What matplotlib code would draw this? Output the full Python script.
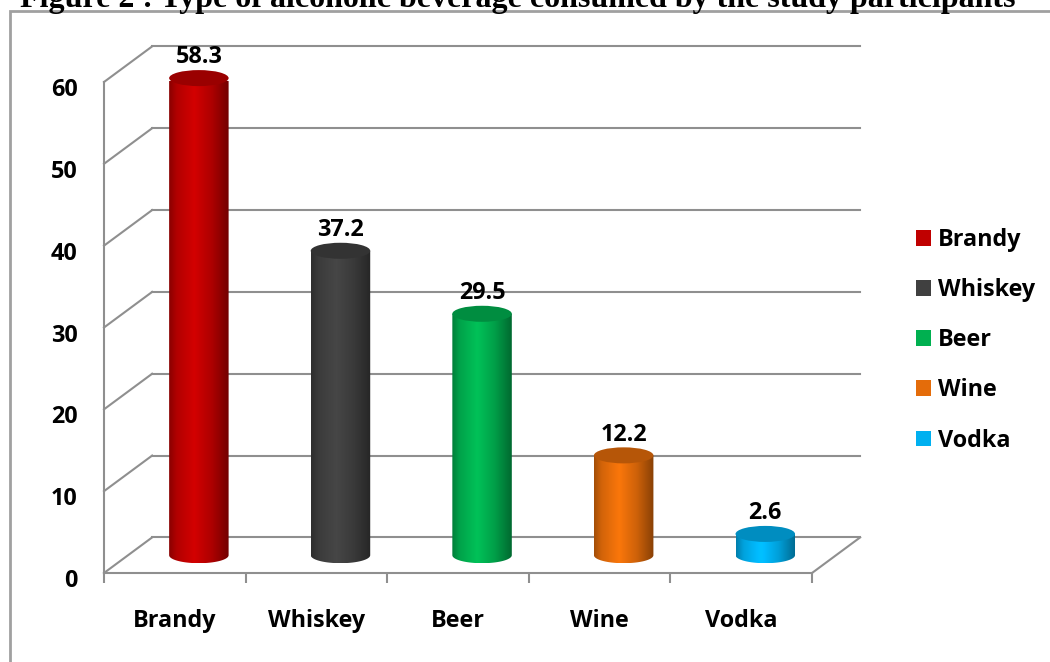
import numpy as np
import matplotlib
matplotlib.use('Agg')
import matplotlib.pyplot as plt
import matplotlib.colors as mcolors
from matplotlib.patches import Ellipse, PathPatch, Patch, Rectangle
from matplotlib.path import Path
from matplotlib.transforms import ScaledTranslation

# data
drinks = ['Brandy', 'Whiskey', 'Beer', 'Wine', 'Vodka']
percent = [58.3, 37.2, 29.5, 12.2, 2.6]
colours = ['#C00000', '#404040', '#00B050', '#E46C0A', '#00B0F0']
yticks = [0, 10, 20, 30, 40, 50, 60]
title = 'Figure 2 : Type of alcoholic beverage consumed by the study participants'

W, H = 1050, 662
# fake 3d: depth offset of the box, in data units (category, value)
DX, DY = 0.34, 4.35
R = 0.21    # cylinder radius in category units
RY = 0.98   # half height of the cap ellipse in value units
grid_c = '#8f8f8f'
fs = 16.8

plt.rcParams['font.family'] = ['Open Sans', 'DejaVu Sans']
plt.rcParams['font.weight'] = 'bold'

fig = plt.figure(figsize=(W / 100, H / 100), dpi=100)
ax = fig.add_axes([104 / W, 1 - 573 / H, 708 / W, (573 - 82) / H])
ax.patch.set_alpha(0)

n = len(drinks)

# walls and floor
for v in yticks:
    ax.plot([0, DX], [v, v + DY], color=grid_c, lw=1.5, clip_on=False, zorder=1)
    ax.plot([DX, n + DX], [v + DY, v + DY], color=grid_c, lw=1.5, clip_on=False, zorder=1)
ax.plot([n, n + DX], [0, DY], color=grid_c, lw=1.5, clip_on=False, zorder=1)

# shading across a cylinder, left -> right
t_pts = [0, 0.12, 0.42, 0.72, 1]
f_pts = [0.72, 0.92, 1.1, 0.9, 0.6]


def shade(colour, k=64):
    base = np.array(mcolors.to_rgb(colour))
    t = np.linspace(0, 1, k)
    f = np.interp(t, t_pts, f_pts)
    return np.clip(base[None, :] * f[:, None], 0, 1)[None, :, :]


def body_path(cx, y0, y1):
    th = np.linspace(np.pi, 2 * np.pi, 50)
    arc = np.column_stack([cx + R * np.cos(th), y0 + RY * np.sin(th)])
    verts = np.vstack([[cx - R, y1], arc, [cx + R, y1], [cx - R, y1]])
    return Path(verts, closed=True)


for i, (name, v, c) in enumerate(zip(drinks, percent, colours)):
    cx = i + 0.5 + DX / 2
    y0 = DY / 2
    y1 = v + DY / 2
    clip = PathPatch(body_path(cx, y0, y1), transform=ax.transData,
                     facecolor='none', edgecolor='none')
    im = ax.imshow(shade(c), extent=[cx - R, cx + R, y0 - RY, y1],
                   aspect='auto', interpolation='bilinear', zorder=3)
    im.set_clip_path(clip)
    im.set_clip_box(None)
    top = np.clip(np.array(mcolors.to_rgb(c)) * 0.8, 0, 1)
    ax.add_patch(Ellipse((cx, y1), 2 * R, 2 * RY, facecolor=top,
                         edgecolor='none', clip_on=False, zorder=4))
    ax.annotate(f'{v}', xy=(cx, y1), xytext=(0, 15), textcoords='offset points',
                ha='center', va='center', fontsize=fs, fontweight='bold',
                annotation_clip=False, zorder=5)

ax.set_xlim(0, n)
ax.set_ylim(0, 60)

ax.set_yticks(yticks)
ax.tick_params(axis='y', length=0, pad=19, labelsize=fs)

ax.set_xticks(range(n + 1))
ax.set_xticklabels([])
ax.set_xticks(np.arange(n) + 0.5, minor=True)
ax.set_xticklabels(drinks, minor=True)
ax.tick_params(axis='x', which='major', length=7, width=1.5, color=grid_c)
ax.tick_params(axis='x', which='minor', length=0, pad=26, labelsize=fs)

# value labels sit a little below the front gridline ends
down = ScaledTranslation(0, -5 / 100, fig.dpi_scale_trans)
for t in ax.yaxis.get_major_ticks():
    t.label1.set_transform(t.label1.get_transform() + down)

for s in ['top', 'right']:
    ax.spines[s].set_visible(False)
for s in ['left', 'bottom']:
    ax.spines[s].set_color(grid_c)
    ax.spines[s].set_linewidth(1.5)

handles = [Patch(facecolor=c, edgecolor='none') for c in colours]
fig.legend(handles, drinks, loc='upper left', bbox_to_anchor=(916 / W, 1 - 228 / H),
           frameon=False, fontsize=fs, handlelength=0.65, handleheight=0.65,
           handletextpad=0.3, labelspacing=1.12, borderaxespad=0, borderpad=0)

# title of the page, cut off at the top
fig.text(518 / W, 1 - 6.5 / H, title, ha='center', va='baseline',
         family='Liberation Serif', fontweight='bold', fontsize=23)

# frame around the chart
fig.add_artist(Rectangle((10 / W, -0.1), 1.2, 1.1 - 11 / H, fill=False,
                         edgecolor='#a0a0a0', lw=2, transform=fig.transFigure))

fig.savefig('out.png', dpi=100)
